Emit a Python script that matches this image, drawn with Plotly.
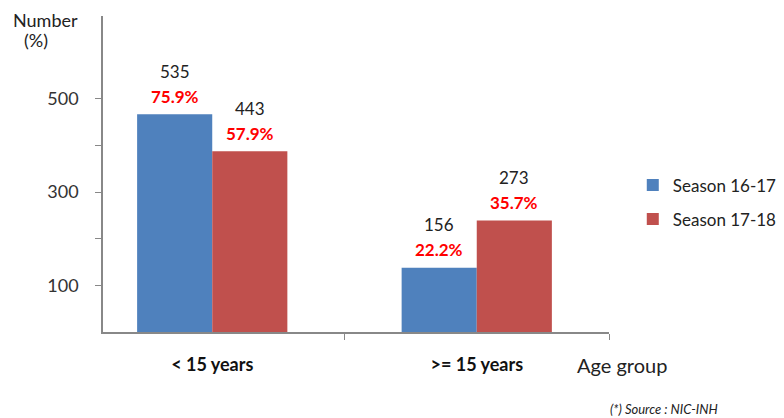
import plotly.graph_objects as go

categories = ["< 15 years", ">= 15 years"]
series_names = ["Season 16-17", "Season 17-18"]
# bar heights as drawn against the y axis
bar_heights_1617 = [467, 138]
bar_heights_1718 = [388, 239]
# labels printed above the bars
count_labels_1617 = ["535", "156"]
count_labels_1718 = ["443", "273"]
pct_labels_1617 = ["75.9%", "22.2%"]
pct_labels_1718 = ["57.9%", "35.7%"]
y_tickvals = [100, 200, 300, 400, 500]
y_ticktext = ["100", "", "300", "", "500"]

colors = ["#4F81BD", "#C0504D"]
FONT = "Lato, 'Open Sans', sans-serif"

fig = go.Figure()
fig.add_trace(go.Bar(x=categories, y=bar_heights_1617, name=series_names[0],
                     marker=dict(color=colors[0], line=dict(width=0)),
                     legendgroup="a"))
fig.add_trace(go.Bar(x=categories, y=bar_heights_1718, name=series_names[1],
                     marker=dict(color=colors[1], line=dict(width=0)),
                     legendgroup="b"))

annotations = []
for vals, counts, pcts, shift in [
    (bar_heights_1617, count_labels_1617, pct_labels_1617, -37.5),
    (bar_heights_1718, count_labels_1718, pct_labels_1718, 37.5),
]:
    for cat, v, c, p in zip(categories, vals, counts, pcts):
        annotations.append(dict(x=cat, y=v, xref="x", yref="y", text=c,
                                showarrow=False, xshift=shift, yshift=43,
                                font=dict(size=17, color="#222222", family=FONT)))
        annotations.append(dict(x=cat, y=v, xref="x", yref="y", text="<b>" + p + "</b>",
                                showarrow=False, xshift=shift, yshift=18,
                                font=dict(size=17, color="#FF0000", family=FONT)))

annotations += [
    dict(x=-0.114, y=1.0, xref="paper", yref="paper", text="Number", showarrow=False,
         xanchor="center", yanchor="middle", yshift=-4, borderpad=0,
         font=dict(size=18, color="#222222", family=FONT)),
    dict(x=-0.132, y=0.930, xref="paper", yref="paper", text="(%)", showarrow=False,
         xanchor="center", yanchor="middle", yshift=-2,
         font=dict(size=18, color="#222222", family=FONT)),
    dict(x=1.0, y=0, xref="paper", yref="paper", text="Age group", showarrow=False,
         xanchor="left", yanchor="middle", xshift=-34, yshift=-33,
         font=dict(size=20, color="#222222", family=FONT)),
    dict(x=1.0, y=0, xref="paper", yref="paper", text="<i>(*) Source : NIC-INH</i>",
         showarrow=False, xanchor="left", yanchor="middle", xshift=-1, yshift=-77,
         font=dict(size=13, color="#222222", family=FONT)),
]

fig.update_layout(
    width=776, height=410,
    margin=dict(l=95, r=175, t=8, b=86, autoexpand=False),
    paper_bgcolor="white", plot_bgcolor="white",
    barmode="group", bargap=0.432, bargroupgap=0,
    font=dict(family=FONT, color="#222222"),
    showlegend=True,
    legend=dict(x=1.047, y=0.41, xanchor="left", yanchor="middle",
                font=dict(size=17, color="#222222", family=FONT),
                tracegroupgap=9, itemwidth=30),
    annotations=annotations,
    xaxis=dict(range=[-0.413, 1.5], showline=True, linecolor="#888888", linewidth=1.5,
               ticks="outside", ticklen=6, tickcolor="#888888", tickson="boundaries",
               showgrid=False, zeroline=False,
               tickfont=dict(size=18, color="#111111", family=FONT),
               tickprefix="<b>", ticksuffix="</b>", ticklabelstandoff=16),
    yaxis=dict(range=[0, 678], showline=True, linecolor="#888888", linewidth=1.5,
               ticks="outside", ticklen=6, tickcolor="#888888",
               tickvals=y_tickvals, ticktext=y_ticktext,
               showgrid=False, zeroline=False,
               tickfont=dict(size=18, color="#333333", family=FONT),
               ticklabelstandoff=13),
)

fig.write_html("out.html")
